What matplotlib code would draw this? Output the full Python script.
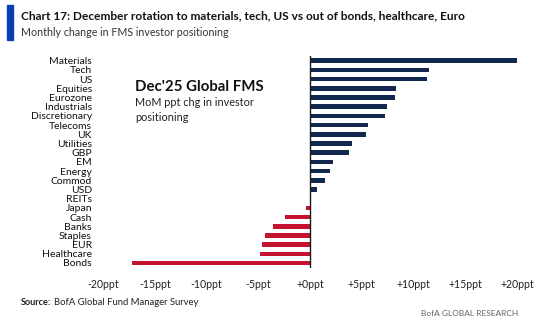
import matplotlib
matplotlib.use("Agg")
import matplotlib.pyplot as plt
from matplotlib.patches import Rectangle

# Monthly change in FMS positioning (ppt)
categories = [
    "Materials", "Tech", "US", "Equities", "Eurozone", "Industrials",
    "Discretionary", "Telecoms", "UK", "Utilities", "GBP", "EM", "Energy",
    "Commod", "USD", "REITs", "Japan", "Cash", "Banks", "Staples", "EUR",
    "Healthcare", "Bonds",
]
changes = [
    20.0, 11.5, 11.3, 8.3, 8.2, 7.4,
    7.3, 5.6, 5.4, 4.1, 3.8, 2.2, 1.9,
    1.5, 0.7, 0.0, -0.4, -2.4, -3.6, -4.3, -4.6,
    -4.8, -17.2,
]
xticks = [-20, -15, -10, -5, 0, 5, 10, 15, 20]
xtick_labels = ["-20ppt", "-15ppt", "-10ppt", "-5ppt", "+0ppt",
                "+5ppt", "+10ppt", "+15ppt", "+20ppt"]

NAVY = "#13284f"
RED = "#c41230"

plt.rcParams["font.family"] = ["Lato", "DejaVu Sans"]

fig = plt.figure(figsize=(5.54, 3.32), dpi=100)
ax = fig.add_axes([0.186, 0.194, 0.747, 0.637])

colors = [NAVY if v >= 0 else RED for v in changes]
ax.barh(range(len(categories)), changes, height=0.5, color=colors)
ax.axvline(0, color="#1a1a1a", lw=1.0)

ax.set_xlim(-20, 20)
ax.set_ylim(len(categories) - 0.5, -0.5)
ax.set_yticks(range(len(categories)))
ax.set_yticklabels(categories, fontsize=7.5, color="#111111")
ax.set_xticks(xticks)
ax.set_xticklabels(xtick_labels, fontsize=7.6, color="#222222")
ax.tick_params(length=0)
ax.tick_params(axis="y", pad=8)
ax.tick_params(axis="x", pad=8)
for s in ax.spines.values():
    s.set_visible(False)

# in-chart note
fig.text(0.244, 0.738, "Dec'25 Global FMS", fontsize=10.8,
         fontweight="bold", color="#111111", va="center")
fig.text(0.244, 0.668, "MoM ppt chg in investor\npositioning",
         fontsize=7.8, color="#222222", va="center", linespacing=1.45)

# header
fig.patches.append(Rectangle((0.013, 0.88), 0.011, 0.105,
                             transform=fig.transFigure, color="#0b3db3"))
fig.text(0.038, 0.952, "Chart 17: December rotation to materials, tech, US vs out of bonds, healthcare, Euro",
         fontsize=8.6, fontweight="bold", color="#111111", va="center")
fig.text(0.038, 0.903, "Monthly change in FMS investor positioning",
         fontsize=7.7, color="#333333", va="center")

# footer
fig.text(0.038, 0.09, "Source:", fontsize=6.6, fontweight="bold",
         color="#222222", va="center")
fig.text(0.097, 0.09, "BofA Global Fund Manager Survey",
         fontsize=6.8, color="#222222", va="center")
fig.text(0.935, 0.057, "BofA GLOBAL RESEARCH", fontsize=6, color="#666666",
         va="center", ha="right")

fig.savefig("out.png", dpi=100, facecolor="white")
